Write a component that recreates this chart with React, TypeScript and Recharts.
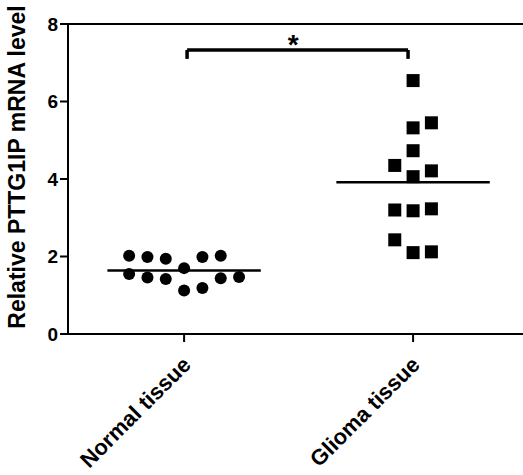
import { ScatterChart, Scatter, XAxis, YAxis, ReferenceLine, ReferenceDot, Label } from 'recharts';

const FONT = '"Liberation Sans", Arial, sans-serif';

// group labels (x positions 1 and 2 on a numeric axis)
const groups = ['Normal tissue', 'Glioma tissue'];

// column slot of each point inside its group (jitter), and measured values
const normalCols = [-3, -3, -2, -2, -1, -1, 0, 0, 1, 1, 2, 2, 3];
const normalValues = [2.02, 1.55, 1.99, 1.46, 1.94, 1.42, 1.7, 1.12, 1.99, 1.19, 2.02, 1.44, 1.47];
const gliomaCols = [0, 1, 0, 0, -1, 1, 0, -1, 0, 1, -1, 0, 1];
const gliomaValues = [6.54, 5.45, 5.32, 4.73, 4.35, 4.21, 4.06, 3.2, 3.18, 3.23, 2.43, 2.1, 2.12];

const yTicks = [0, 2, 4, 6, 8];
const sigLabel = '*';

const COL_STEP = 0.08;
const MEAN_HALF = 0.335;
const BRACKET_Y = 7.33;
const BRACKET_LEG = 7.1;

const toPoints = (group: number, cols: number[], vals: number[]) =>
  vals.map((v, i) => ({ x: group + cols[i] * COL_STEP, y: v }));

const mean = (vals: number[]) => vals.reduce((a, b) => a + b, 0) / vals.length;

const normalData = toPoints(1, normalCols, normalValues);
const gliomaData = toPoints(2, gliomaCols, gliomaValues);
const normalMean = mean(normalValues);
const gliomaMean = mean(gliomaValues);

const Dot = (props: any) => <circle cx={props.cx} cy={props.cy} r={6} fill="#000" />;
const Square = (props: any) => (
  <rect x={props.cx - 6.5} y={props.cy - 6.5} width={13} height={13} fill="#000" />
);

const GroupTick = ({ x, y, payload }: any) => (
  <g transform={`translate(${x},${y})`}>
    <text
      x={8}
      y={22}
      textAnchor="end"
      transform="rotate(-45 8 22)"
      fontSize={22}
      fontWeight="bold"
      fontFamily={FONT}
      fill="#000"
    >
      {groups[Math.round(payload.value) - 1]}
    </text>
  </g>
);

const YTitle = () => (
  <text
    x={25}
    y={167}
    textAnchor="middle"
    transform="rotate(-90 25 167)"
    fontSize={23}
    fontWeight="bold"
    fontFamily={FONT}
    fill="#000"
  >
    Relative PTTG1IP mRNA level
  </text>
);

export default function App() {
  return (
    <div style={{ position: 'absolute', left: 0, top: 0, background: '#fff' }}>
      <ScatterChart width={523} height={475} margin={{ top: 24, right: 0, bottom: 0, left: 0 }}>
        <XAxis
          type="number"
          dataKey="x"
          domain={[0.493, 2.48]}
          ticks={[1, 2]}
          allowDataOverflow
          height={141}
          tickSize={8}
          tick={<GroupTick />}
          axisLine={{ stroke: '#000', strokeWidth: 2 }}
          tickLine={{ stroke: '#000', strokeWidth: 2 }}
        />
        <YAxis
          type="number"
          dataKey="y"
          domain={[0, 8]}
          ticks={yTicks}
          width={68}
          tickSize={8}
          tick={{ fill: '#000', fontSize: 19, fontWeight: 'bold', fontFamily: FONT }}
          axisLine={{ stroke: '#000', strokeWidth: 2 }}
          tickLine={{ stroke: '#000', strokeWidth: 2 }}
        >
          <Label content={<YTitle />} />
        </YAxis>
        <ReferenceLine y={8} stroke="#000" strokeWidth={2} />
        <ReferenceLine
          segment={[{ x: 1 - MEAN_HALF, y: normalMean }, { x: 1 + MEAN_HALF, y: normalMean }]}
          stroke="#000"
          strokeWidth={2.5}
        />
        <ReferenceLine
          segment={[{ x: 2 - MEAN_HALF, y: gliomaMean }, { x: 2 + MEAN_HALF, y: gliomaMean }]}
          stroke="#000"
          strokeWidth={2.5}
        />
        <ReferenceLine segment={[{ x: 1.013, y: BRACKET_Y }, { x: 1.978, y: BRACKET_Y }]} stroke="#000" strokeWidth={3.5} />
        <ReferenceLine segment={[{ x: 1.013, y: BRACKET_LEG }, { x: 1.013, y: BRACKET_Y }]} stroke="#000" strokeWidth={3.5} />
        <ReferenceLine segment={[{ x: 1.978, y: BRACKET_LEG }, { x: 1.978, y: BRACKET_Y }]} stroke="#000" strokeWidth={3.5} />
        <ReferenceDot
          x={1.476}
          y={7.22}
          r={0}
          shape={(p: any) => (
            <text x={p.cx} y={p.cy} textAnchor="middle" fontSize={28} fontWeight="bold" fontFamily={FONT} fill="#000">
              {sigLabel}
            </text>
          )}
        />
        <Scatter data={normalData} shape={<Dot />} isAnimationActive={false} />
        <Scatter data={gliomaData} shape={<Square />} isAnimationActive={false} />
      </ScatterChart>
    </div>
  );
}
